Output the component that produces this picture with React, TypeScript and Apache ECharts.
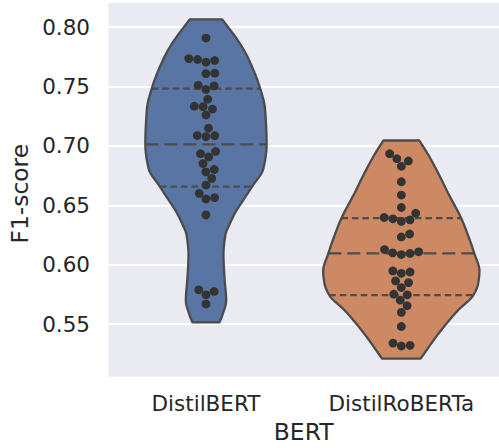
import React, { useEffect, useRef } from "react";
import * as echarts from "echarts";

const categories = ["DistilBERT", "DistilRoBERTa"];
const distilbertScores = [
  0.7908, 0.7735, 0.7727, 0.7719, 0.7705, 0.7612, 0.7608, 0.751, 0.7505, 0.7476,
  0.7393, 0.7334, 0.733, 0.731, 0.726, 0.7149, 0.7087, 0.7078, 0.7085, 0.6953,
  0.6934, 0.6907, 0.6851, 0.6801, 0.6781, 0.6726, 0.667, 0.66, 0.6564, 0.6553,
  0.6419, 0.5788, 0.5774, 0.5746, 0.5668,
];
const distilrobertaScores = [
  0.6934, 0.6892, 0.6873, 0.6828, 0.6698, 0.6586, 0.6481, 0.6433, 0.6397, 0.6386,
  0.6377, 0.6364, 0.6258, 0.6233, 0.6127, 0.6108, 0.6099, 0.6094, 0.6085, 0.5947,
  0.5938, 0.5927, 0.5863, 0.5849, 0.5807, 0.5751, 0.5746, 0.5701, 0.5654, 0.5598,
  0.5479, 0.5339, 0.532, 0.5315,
];
// quartile lines (25%, 50%, 75%) as drawn
const distilbertQuartiles = [0.6656, 0.7012, 0.7482];
const distilrobertaQuartiles = [0.5743, 0.6094, 0.6391];

// violin density profiles (F1 level -> relative density, 1 = widest violin)
const distilbertDensityLevels = [
  0.5515, 0.5584, 0.5696, 0.5891, 0.6085, 0.6252, 0.6336, 0.6447, 0.6531, 0.6656,
  0.681, 0.7012, 0.731, 0.7482, 0.7727, 0.7864, 0.8065,
];
const distilbertDensity = [
  0.174, 0.215, 0.258, 0.237, 0.224, 0.249, 0.299, 0.382, 0.465, 0.589,
  0.735, 0.776, 0.756, 0.694, 0.548, 0.432, 0.208,
];
const distilrobertaDensityLevels = [
  0.5209, 0.5417, 0.5613, 0.5743, 0.5843, 0.5947, 0.6094, 0.6225, 0.6391, 0.6614,
  0.6725, 0.692, 0.7045,
];
const distilrobertaDensity = [
  0.247, 0.473, 0.722, 0.922, 0.984, 1.0, 0.934, 0.866, 0.766, 0.589,
  0.507, 0.349, 0.23,
];
const yTickLabels = ["0.55", "0.60", "0.65", "0.70", "0.75", "0.80"];

const groups = [distilbertScores, distilrobertaScores];
const quartiles = [distilbertQuartiles, distilrobertaQuartiles];
const profiles = [
  { levels: distilbertDensityLevels, dens: distilbertDensity },
  { levels: distilrobertaDensityLevels, dens: distilrobertaDensity },
];
const FILLS = ["#5875A4", "#CC8963"];
const EDGE = "#4c4c4c";
const BG = "#EAEAF2";

// smooth (cubic Hermite) outline between profile levels
function profileAt(xs: number[], ys: number[], x: number): number {
  const n = xs.length;
  if (x <= xs[0]) return ys[0];
  if (x >= xs[n - 1]) return ys[n - 1];
  let k = 0;
  while (k < n - 2 && x > xs[k + 1]) k++;
  const d = (i: number) => (ys[i + 1] - ys[i]) / (xs[i + 1] - xs[i]);
  const m = (i: number) => {
    if (i === 0) return d(0);
    if (i === n - 1) return d(n - 2);
    const a = d(i - 1);
    const b = d(i);
    if (a * b <= 0) return 0;
    return (2 * a * b) / (a + b);
  };
  const h = xs[k + 1] - xs[k];
  const t = (x - xs[k]) / h;
  const t2 = t * t;
  const t3 = t2 * t;
  return (
    (2 * t3 - 3 * t2 + 1) * ys[k] +
    (t3 - 2 * t2 + t) * h * m(k) +
    (-2 * t3 + 3 * t2) * ys[k + 1] +
    (t3 - t2) * h * m(k + 1)
  );
}

function swarm(ys: number[], vals: number[], d: number): number[] {
  const order = vals.map((_, i) => i).sort((a, b) => vals[a] - vals[b]);
  const placed: { x: number; y: number }[] = [];
  const xs = new Array(ys.length).fill(0);
  for (const i of order) {
    const y = ys[i];
    const near = placed.filter((p) => Math.abs(p.y - y) < d);
    const cands = [0];
    for (const p of near) {
      const dx = Math.sqrt(d * d - (p.y - y) ** 2);
      cands.push(p.x + dx, p.x - dx);
    }
    cands.sort((a, b) => Math.abs(a) - Math.abs(b));
    let chosen = 0;
    for (const c of cands) {
      if (near.every((p) => (p.x - c) ** 2 + (p.y - y) ** 2 >= d * d - 1e-6)) {
        chosen = c;
        break;
      }
    }
    xs[i] = chosen;
    placed.push({ x: chosen, y });
  }
  return xs;
}

export default function App() {
  const ref = useRef<HTMLDivElement>(null);
  useEffect(() => {
    if (!ref.current) return;
    const chart = echarts.init(ref.current, undefined, { renderer: "svg" });
    const font = "DejaVu Sans";
    const option: any = {
      animation: false,
      backgroundColor: "#ffffff",
      textStyle: { fontFamily: font },
      grid: { left: 108.3, right: -11, top: 4, bottom: 61.3, show: false },
      graphic: [
        {
          type: "rect",
          z: -100,
          silent: true,
          shape: { x: 108.3, y: 4, width: 402, height: 372.7 },
          style: { fill: BG },
        },
      ],
      xAxis: {
        type: "category",
        data: categories,
        axisLine: { show: false },
        axisTick: { show: false },
        splitLine: { show: false },
        axisLabel: { fontSize: 21.5, color: "#262626", margin: 9, fontFamily: font },
        name: "BERT",
        nameLocation: "middle",
        nameGap: 36.6,
        nameTextStyle: { fontSize: 23.4, color: "#262626", fontFamily: font },
      },
      yAxis: {
        type: "value",
        min: 0.5,
        max: 0.81945,
        interval: 0.05,
        axisLine: { show: false },
        axisTick: { show: false },
        splitLine: {
          show: true,
          lineStyle: {
            color: ["#ffffff", "#ffffff", "#ffffff", "#ffffff", "#ffffff", "#ffffff", "#ffffff", BG],
            width: 2,
          },
        },
        axisLabel: {
          fontSize: 21.5,
          color: "#262626",
          margin: 18.3,
          fontFamily: font,
          formatter: (v: number) => (yTickLabels.includes(v.toFixed(2)) ? v.toFixed(2) : ""),
        },
        name: "F1-score",
        nameLocation: "middle",
        nameGap: 73,
        nameTextStyle: { fontSize: 23.4, color: "#262626", fontFamily: font },
      },
      series: [
        {
          type: "custom",
          name: "violin",
          coordinateSystem: "cartesian2d",
          clip: false,
          data: [
            [0, 0.7],
            [1, 0.6],
          ],
          encode: { x: 0, y: 1 },
          renderItem: (params: any, api: any) => {
            const idx = params.dataIndex;
            const pr = profiles[idx];
            const band = api.size([1, 0])[0];
            const half = 0.4 * band;
            const lo = pr.levels[0];
            const hi = pr.levels[pr.levels.length - 1];
            const cx = api.coord([idx, lo])[0];
            const right: number[][] = [];
            const left: number[][] = [];
            const steps = 160;
            for (let i = 0; i <= steps; i++) {
              const g = lo + ((hi - lo) * i) / steps;
              const py = api.coord([idx, g])[1];
              const w = half * profileAt(pr.levels, pr.dens, g);
              right.push([cx + w, py]);
              left.push([cx - w, py]);
            }
            const pts = right.concat(left.reverse());
            const children: any[] = [
              {
                type: "polygon",
                shape: { points: pts },
                style: { fill: FILLS[idx], stroke: EDGE, lineWidth: 2.3, lineJoin: "round" },
              },
            ];
            quartiles[idx].forEach((q, k) => {
              const py = api.coord([idx, q])[1];
              const w = half * profileAt(pr.levels, pr.dens, q);
              children.push({
                type: "line",
                shape: { x1: cx - w, y1: py, x2: cx + w, y2: py },
                style: {
                  stroke: EDGE,
                  lineWidth: 2.3,
                  lineDash: k === 1 ? [13, 6] : [6.5, 4],
                },
              });
            });
            return { type: "group", children };
          },
          z: 2,
        },
        {
          type: "custom",
          name: "points",
          coordinateSystem: "cartesian2d",
          clip: false,
          data: [
            [0, 0.7],
            [1, 0.6],
          ],
          encode: { x: 0, y: 1 },
          renderItem: (params: any, api: any) => {
            const idx = params.dataIndex;
            const vals = groups[idx];
            const cx = api.coord([idx, vals[0]])[0];
            const ys = vals.map((v) => api.coord([idx, v])[1]);
            const r = 4.4;
            const xs = swarm(ys, vals, 2 * r);
            return {
              type: "group",
              children: vals.map((_, i) => ({
                type: "circle",
                shape: { cx: cx + xs[i], cy: ys[i], r },
                style: { fill: "#333333" },
              })),
            };
          },
          z: 3,
        },
      ],
    };
    chart.setOption(option);
    return () => chart.dispose();
  }, []);
  return (
    <div style={{ position: "fixed", left: 0, top: 0, width: 499, height: 448, overflow: "hidden" }}>
      <div ref={ref} style={{ width: 499, height: 448 }} />
    </div>
  );
}
